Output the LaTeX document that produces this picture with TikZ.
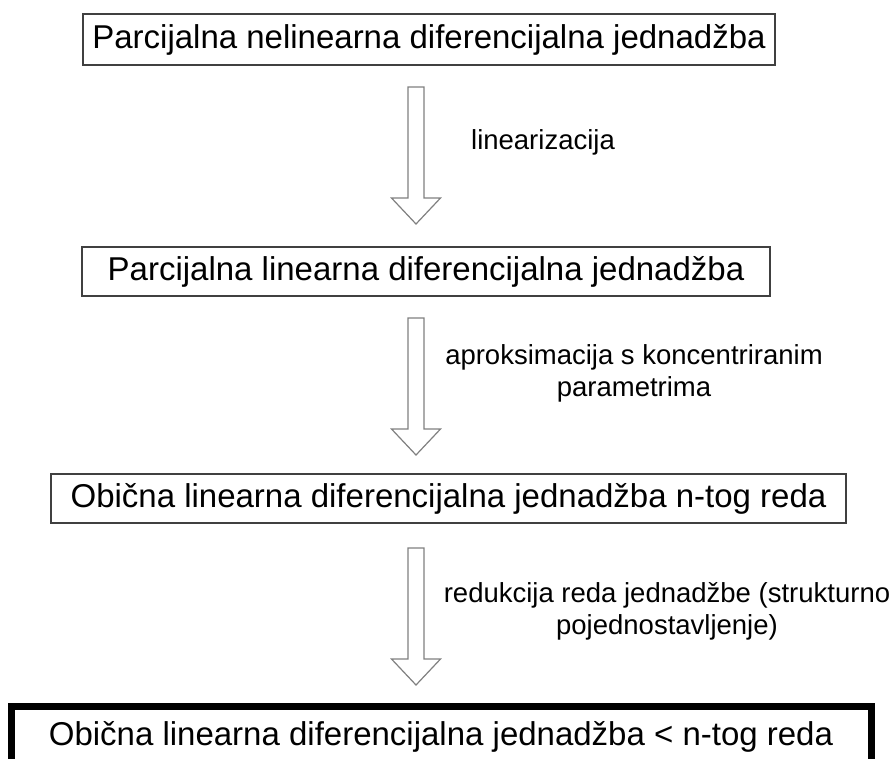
\documentclass[tikz,border=0pt]{standalone}
\usepackage{fontspec}
\setmainfont{Liberation Sans}
\tikzset{
  eqbox/.style={draw=black!75, line width=1.4pt, inner sep=0pt, font=\fontsize{33}{40}\selectfont},
  steplabel/.style={align=center, inner sep=0pt, font=\fontsize{27.5}{32}\selectfont},
  arrowline/.style={draw=black!50, line width=1.2pt, line join=miter},
  pics/fatarrow/.style={code={
    \draw[arrowline] (-8,0) -- (8,0) -- (8,111) -- (24.5,111) -- (0,137) -- (-24.5,111) -- (-8,111) -- cycle;
  }}
}
\begin{document}
\begin{tikzpicture}[x=1pt, y=-1pt]
                \useasboundingbox[fill=white] (0,0) rectangle (896,758);

                \node (nelin) at (429, 39.5) [eqbox, minimum width=692, minimum height=51] {Parcijalna nelinearna diferencijalna jednadžba};
                \node (lin) at (426, 271.5) [eqbox, minimum width=688, minimum height=49] {Parcijalna linearna diferencijalna jednadžba};
                \node (obicna) at (448.5, 498.5) [eqbox, minimum width=795, minimum height=49] {Obična linearna diferencijalna jednadžba n-tog reda};
                \node (reduc) at (441, 737) [eqbox, draw=black, line width=7pt, minimum width=860, minimum height=62] {Obična linearna diferencijalna jednadžba < n-tog reda};

                \pic at (416, 87) {fatarrow};
                \pic at (416, 318) {fatarrow};
                \pic at (416, 548) {fatarrow};

                \node (lbl1) at (543, 142) [steplabel] {linearizacija};
                \node (lbl2) at (634, 373) [steplabel] {aproksimacija s koncentriranim\\parametrima};
                \node (lbl3) at (667, 611) [steplabel] {redukcija reda jednadžbe (strukturno\\pojednostavljenje)};
            \end{tikzpicture}
\end{document}
